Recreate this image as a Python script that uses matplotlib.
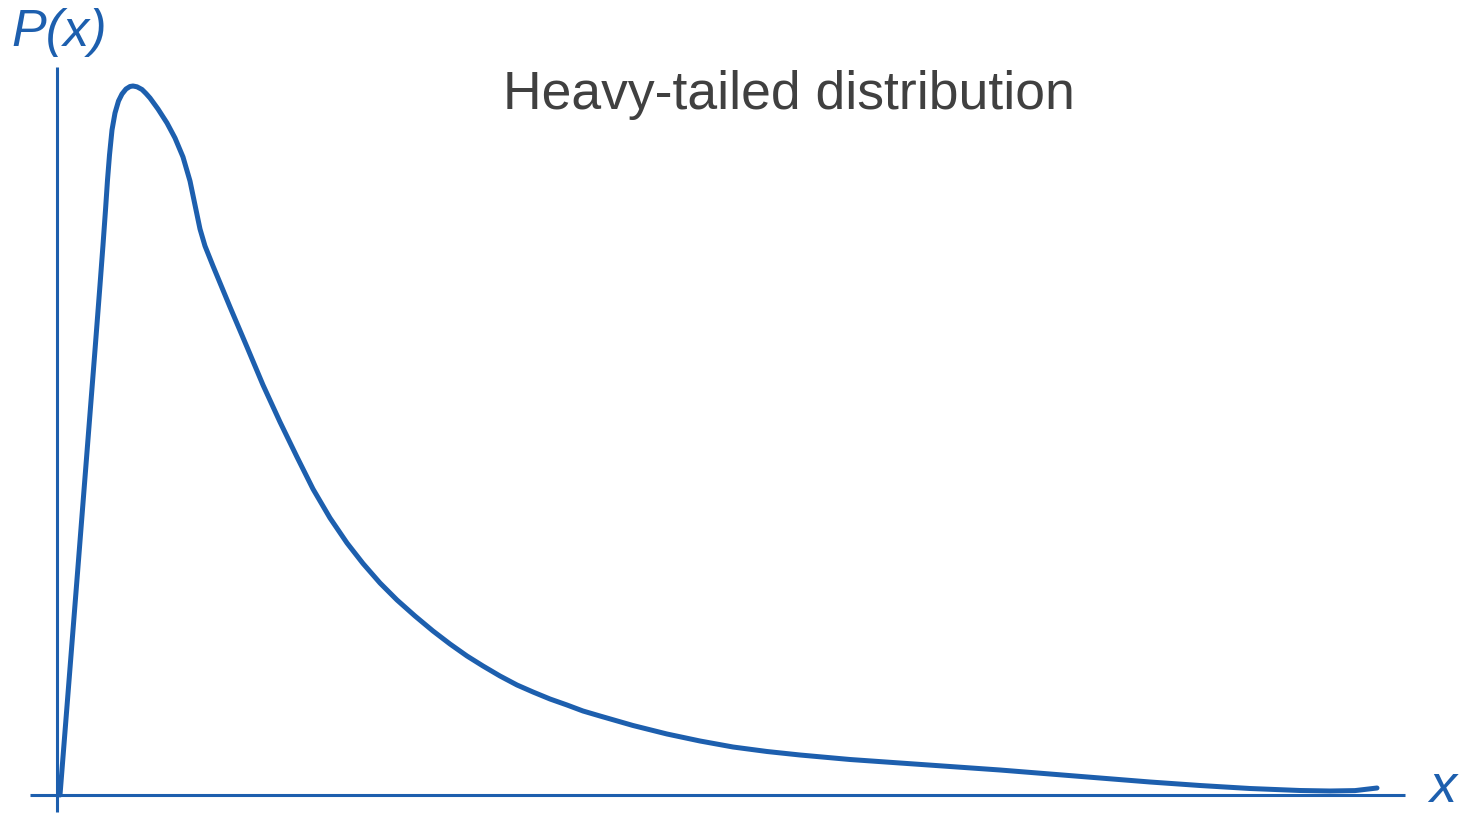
import matplotlib
matplotlib.use('Agg')
import matplotlib.pyplot as plt

# curve (arbitrary units; no ticks in the original)
x_vals = [0.00, 0.175, 0.35, 0.40, 0.43, 0.455, 0.475, 0.495, 0.52, 0.55,
          0.585, 0.62, 0.66, 0.70, 0.73, 0.77, 0.82, 0.86, 0.90, 0.98,
          1.07, 1.15, 1.23, 1.30, 1.40, 1.45, 1.53, 1.70, 1.87, 2.03,
          2.20, 2.37, 2.53, 2.70, 2.87, 3.03, 3.20, 3.37, 3.55, 3.73,
          3.90, 4.07, 4.23, 4.40, 4.57, 4.73, 4.90, 5.07, 5.23, 5.40,
          5.73, 6.07, 6.40, 6.73, 7.07, 7.40, 7.90, 8.40, 8.90, 9.40,
          9.90, 10.40, 10.90, 11.40, 11.90, 12.40, 12.70, 12.95, 13.17]
p_vals = [0, 222, 445, 510, 550, 585, 615, 640, 665, 682,
          694, 701, 706, 708.5, 709, 708.2, 705.5, 701.5, 697, 686,
          672, 657, 638, 614, 566, 549, 529, 488, 448, 410,
          373, 338, 306, 277, 252, 231.5, 212, 195, 179, 164,
          151, 139, 129, 119, 110, 103, 96, 90, 84, 79,
          69.5, 61, 54, 48, 43.5, 40, 35.5, 32, 28.5, 25,
          21, 17, 13, 9.5, 6.5, 4.5, 4, 4.4, 7]

TITLE   = 'Heavy-tailed distribution'
Y_LABEL = 'P(x)'
X_LABEL = 'x'

BLUE = '#1d5fae'
GREY = '#404040'
W, H = 1466, 814

fig = plt.figure(figsize=(W / 100, H / 100), dpi=100)
fig.patch.set_facecolor('white')
ax = fig.add_axes([0, 0, 1, 1])
ax.set_xlim(-0.60, 14.06)
ax.set_ylim(-19, 795)
ax.axis('off')

# hand-drawn style axis lines (overshoot past the origin)
ax.plot([-0.30, 13.45], [0, 0], color=BLUE, linewidth=2.2, solid_capstyle='butt')
ax.plot([-0.03, -0.03], [-17, 728], color=BLUE, linewidth=2.2, solid_capstyle='butt')

ax.plot(x_vals, p_vals, color=BLUE, linewidth=3.6,
        solid_joinstyle='round', solid_capstyle='round')

fig.text(789 / W, 1 - 95 / H, TITLE, ha='center', va='center',
         fontsize=38.5, color=GREY, family='Liberation Sans')
fig.text(11 / W, 1 - 46 / H, Y_LABEL, ha='left', va='baseline',
         fontsize=37.5, color=BLUE, style='italic', family='Liberation Sans')
fig.text(1429 / W, 1 - 802 / H, X_LABEL, ha='left', va='baseline',
         fontsize=39, color=BLUE, style='italic', family='Liberation Sans')

fig.savefig('out.png', dpi=100, facecolor='white')
